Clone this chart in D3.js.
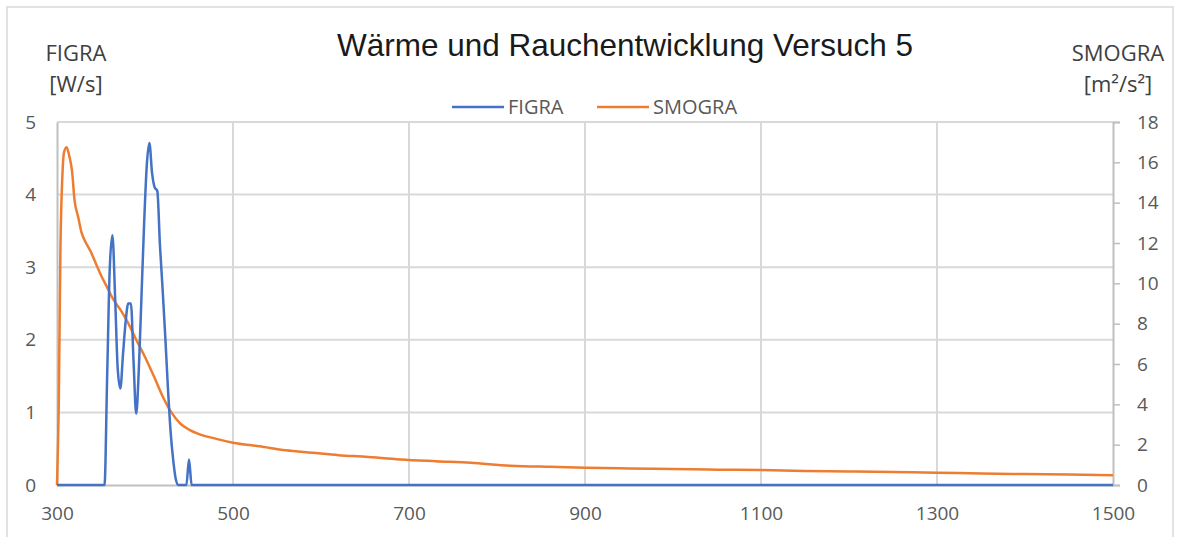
<!DOCTYPE html>
<html>
<head>
<meta charset="utf-8">
<script src="https://cdn.jsdelivr.net/npm/d3@7"></script>
<style>
  html, body { margin: 0; padding: 0; background: #fff; }
  svg { display: block; font-family: "Open Sans", sans-serif; }
</style>
</head>
<body>
<div id="chart"></div>
<script>
// time [s] and FIGRA [W/s]
const figraTime = [300, 354, 357, 360, 363, 366, 369, 372, 375, 378, 381, 384, 387, 390, 393, 396, 399, 402, 405, 408, 411, 414, 417, 420, 423, 426, 429, 432, 435, 438, 447, 450, 453, 1500];
const figraVals = [0, 0, 1.5, 3.0, 3.44, 2.6, 1.6, 1.33, 1.8, 2.25, 2.5, 2.5, 1.7, 0.98, 1.6, 2.6, 3.6, 4.4, 4.71, 4.3, 4.1, 4.05, 3.3, 2.7, 2.05, 1.35, 0.75, 0.35, 0.08, 0, 0, 0.35, 0, 0];

// time [s] and SMOGRA [m²/s²]
const smograTime = [300, 302, 304, 306, 308, 311, 314, 317, 320, 324, 328, 333, 338, 344, 350, 357, 364, 372, 380, 390, 400, 410, 420, 430, 440, 450, 460, 480, 500, 530, 560, 590, 620, 650, 690, 730, 770, 815, 860, 900, 950, 1000, 1050, 1100, 1150, 1200, 1250, 1300, 1350, 1400, 1450, 1500];
const smograVals = [0, 4, 12, 15.2, 16.5, 16.75, 16.3, 15.6, 14.1, 13.3, 12.5, 12.0, 11.6, 11.0, 10.4, 9.8, 9.2, 8.7, 8.1, 7.2, 6.35, 5.4, 4.4, 3.6, 3.05, 2.75, 2.55, 2.3, 2.1, 1.92, 1.72, 1.6, 1.48, 1.4, 1.27, 1.18, 1.1, 0.96, 0.9, 0.86, 0.82, 0.79, 0.76, 0.74, 0.69, 0.67, 0.64, 0.61, 0.57, 0.54, 0.52, 0.48];

const xTicks = [300, 500, 700, 900, 1100, 1300, 1500];
const yLeftTicks = [0, 1, 2, 3, 4, 5];
const yRightTicks = [0, 2, 4, 6, 8, 10, 12, 14, 16, 18];

const W = 1178, H = 537;
const plot = { left: 57, right: 1113, top: 122, bottom: 485 };
const grid = "#d9d9d9", axisCol = "#bfbfbf", labelCol = "#595959";
const blue = "#4472c4", orange = "#ed7d31";
const fmt = d3.format("d");

const svg = d3.select("#chart").append("svg").attr("width", W).attr("height", H);

// chart border
svg.append("rect").attr("x", 7).attr("y", 7).attr("width", 1166).attr("height", 545)
  .attr("fill", "#fff").attr("stroke", grid).attr("stroke-width", 1.5);

const x = d3.scaleLinear().domain([300, 1500]).range([plot.left, plot.right]);
const yL = d3.scaleLinear().domain([0, 5]).range([plot.bottom, plot.top]);
const yR = d3.scaleLinear().domain([0, 18]).range([plot.bottom, plot.top]);

// gridlines
svg.append("g").selectAll("line").data(yLeftTicks.slice(1)).enter().append("line")
  .attr("x1", plot.left).attr("x2", plot.right)
  .attr("y1", d => yL(d)).attr("y2", d => yL(d))
  .attr("stroke", grid).attr("stroke-width", 2);
svg.append("g").selectAll("line").data(xTicks.slice(1, -1)).enter().append("line")
  .attr("x1", d => x(d)).attr("x2", d => x(d))
  .attr("y1", plot.top).attr("y2", plot.bottom)
  .attr("stroke", grid).attr("stroke-width", 2);

// left axis
const leftAxis = svg.append("g").attr("transform", `translate(${plot.left},0)`)
  .call(d3.axisLeft(yL).tickValues(yLeftTicks).tickFormat(fmt).tickSize(0).tickPadding(21));
leftAxis.select(".domain").attr("stroke", axisCol).attr("stroke-width", 2);

// right axis
const rightAxis = svg.append("g").attr("transform", `translate(${plot.right},0)`)
  .call(d3.axisRight(yR).tickValues(yRightTicks).tickFormat(fmt).tickSizeInner(7).tickSizeOuter(7).tickPadding(17));
rightAxis.select(".domain").attr("stroke", axisCol).attr("stroke-width", 2);
rightAxis.selectAll(".tick line").attr("stroke", axisCol).attr("stroke-width", 1.5);

// bottom axis
const bottomAxis = svg.append("g").attr("transform", `translate(0,${plot.bottom})`)
  .call(d3.axisBottom(x).tickValues(xTicks).tickFormat(fmt).tickSize(0).tickPadding(22));
bottomAxis.select(".domain").attr("stroke", axisCol).attr("stroke-width", 2);

svg.selectAll(".tick text").attr("fill", labelCol).style("font-size", "19px")
  .style("font-family", "'Open Sans', sans-serif");

// series
const line = d3.line().curve(d3.curveMonotoneX);
svg.append("path")
  .attr("d", line.x(d => x(d[0])).y(d => yR(d[1]))(d3.zip(smograTime, smograVals)))
  .attr("fill", "none").attr("stroke", orange).attr("stroke-width", 2.5);
svg.append("path")
  .attr("d", line.x(d => x(d[0])).y(d => yL(d[1]))(d3.zip(figraTime, figraVals)))
  .attr("fill", "none").attr("stroke", blue).attr("stroke-width", 2.5);

// title
svg.append("text").attr("x", 625).attr("y", 56).attr("text-anchor", "middle")
  .style("font-family", "'Liberation Sans', Arial, sans-serif").style("font-size", "31.5px")
  .attr("fill", "#1a1a1a").text("Wärme und Rauchentwicklung Versuch 5");

// axis titles
const axTitle = (tx, lines, anchor) => {
  lines.forEach((t, i) => {
    svg.append("text").attr("x", tx).attr("y", 61 + i * 31).attr("text-anchor", anchor)
      .style("font-size", "22px").attr("fill", "#404040").text(t);
  });
};
axTitle(76, ["FIGRA", "[W/s]"], "middle");
axTitle(1118, ["SMOGRA", "[m²/s²]"], "middle");

// legend
const legend = [{ name: "FIGRA", color: blue, x: 452 }, { name: "SMOGRA", color: orange, x: 597 }];
const lg = svg.append("g").selectAll("g").data(legend).enter().append("g");
lg.append("line").attr("x1", d => d.x).attr("x2", d => d.x + 52)
  .attr("y1", 107).attr("y2", 107).attr("stroke", d => d.color).attr("stroke-width", 2.5);
lg.append("text").attr("x", d => d.x + 56).attr("y", 114)
  .style("font-size", "20px").attr("fill", labelCol).text(d => d.name);
</script>
</body>
</html>
